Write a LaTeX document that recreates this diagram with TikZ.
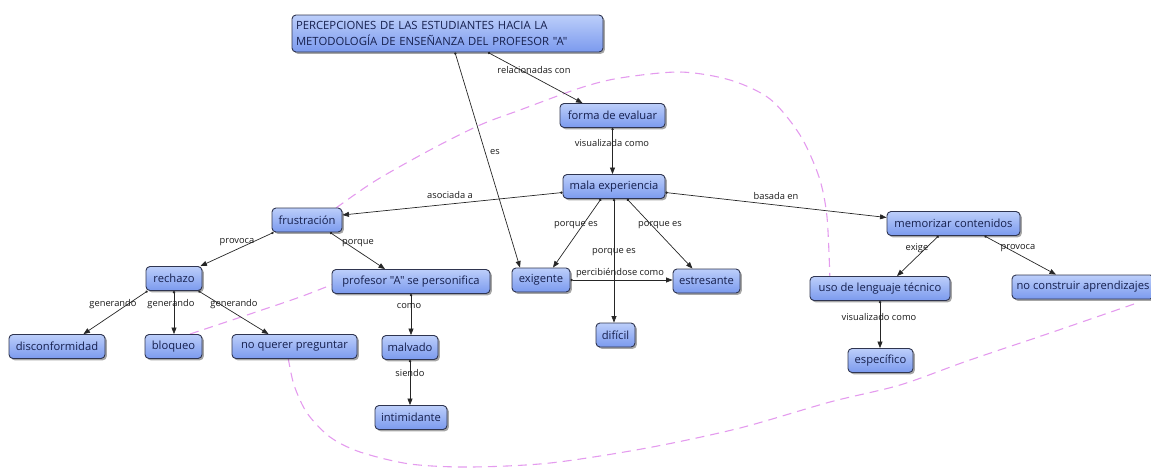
\documentclass[tikz,border=0pt]{standalone}
\usepackage{fontspec}
\newfontfamily\cmapfont{Open Sans}
\usetikzlibrary{shadows,arrows.meta,calc}
\definecolor{conTop}{HTML}{BCCEFA}
\definecolor{conBot}{HTML}{7B9AEE}
\definecolor{conLine}{HTML}{2F3550}
\definecolor{conText}{HTML}{16204E}
\definecolor{loopCol}{HTML}{E49BEE}
\tikzset{
  concept/.style={rectangle, rounded corners=4pt, draw=conLine, line width=0.9pt,
    top color=conTop, bottom color=conBot, text=conText,
    font=\cmapfont\fontsize{11.2}{13}\selectfont,
    minimum height=24pt, inner sep=2pt,
    drop shadow={shadow xshift=1.8pt, shadow yshift=-1.8pt, opacity=0.35, fill=black}},
  lbl/.style={font=\cmapfont\fontsize{9.3}{11}\selectfont, text=black!90, inner sep=0.5pt},
  link/.style={draw=black!85, line width=0.7pt,
    {Circle[length=2.4pt]}-{Triangle[length=6.5pt,width=5pt]}},
  loopline/.style={draw=loopCol, line width=1.1pt, dash pattern=on 9pt off 6pt}
}
\begin{document}
\begin{tikzpicture}[x=1pt,y=-1pt]
\useasboundingbox (0,0) rectangle (1151,467);

% dashed grouping loop, drawn first so the concepts sit on top of it
\draw[loopline] plot[smooth] coordinates {(190,334) (250,314) (300,297) (336,283)};
\draw[loopline] plot[smooth] coordinates {(336,208) (375,181) (430,150) (480,125) (520,110)
  (580,88) (620,78) (680,72) (730,80) (770,99) (800,135) (819,177) (827,217) (830,282)};
\draw[loopline] plot[smooth] coordinates {(1134,304) (1050,333) (967,361) (900,385) (830,402)
  (740,428) (647,448) (550,463) (470,467) (410,464) (360,452) (330,437) (307,413) (294,385) (288,357)};

% concepts
\node[concept, minimum width=311pt, minimum height=37pt, text width=303pt, align=left,
  font=\cmapfont\fontsize{11.3}{16.5}\selectfont] (title) at (447.5,33.5)
  {PERCEPCIONES DE LAS ESTUDIANTES HACIA LA\\METODOLOGÍA DE ENSEÑANZA DEL PROFESOR "A"};
\node[concept, minimum width=105pt] (forma) at (612.5,115.5) {forma de evaluar};
\node[concept, minimum width=102pt] (mala) at (614,186.5) {mala experiencia};
\node[concept, minimum width=70pt] (fru) at (307,220) {frustración};
\node[concept, minimum width=158pt] (prof) at (411,281.5) {profesor "A" se personifica};
\node[concept, minimum width=58pt] (exi) at (541,280) {exigente};
\node[concept, minimum width=67pt] (est) at (706.5,281) {estresante};
\node[concept, minimum width=39pt] (dif) at (615.5,335) {difícil};
\node[concept, minimum width=56pt] (rech) at (174,278.5) {rechazo};
\node[concept, minimum width=96pt] (disc) at (57,346.5) {disconformidad};
\node[concept, minimum width=57pt] (bloq) at (173.5,346.5) {bloqueo};
\node[concept, minimum width=125pt] (noq) at (294.5,346.5) {no querer preguntar};
\node[concept, minimum width=56pt] (malv) at (410,347.5) {malvado};
\node[concept, minimum width=72pt] (intim) at (411,417.5) {intimidante};
\node[concept, minimum width=133pt] (mem) at (953.5,223.5) {memorizar contenidos};
\node[concept, minimum width=140pt] (uso) at (880,288.5) {uso de lenguaje técnico};
\node[concept, minimum width=142pt] (noc) at (1083,287) {no construir aprendizajes};
\node[concept, minimum width=65pt] (esp) at (880.5,360.5) {específico};

% connectors
\draw[link] ($(title.south)+(40.5,0)$) -- ($(forma.north)+(-30,0)$);
\draw[link] ($(title.south)+(7.5,0)$) -- ($(exi.north)+(-21,0)$);
\draw[link] (forma.south) -- (forma.south |- mala.north);
\draw[link] ($(mala.west)+(0,6)$) -- ($(fru.east)+(0,-5)$);
\draw[link] ($(mala.south)+(-13,0)$) -- ($(exi.north)+(12,0)$);
\draw[link] (mala.south) -- (mala.south |- dif.north);
\draw[link] ($(mala.south)+(13,0)$) -- ($(est.north)+(-14,0)$);
\draw[link] ($(mala.east)+(0,6)$) -- ($(mem.west)+(0,-6)$);
\draw[link] (exi.east) -- (exi.east -| est.west);
\draw[link] ($(fru.south west)+(2,0)$) -- ($(rech.north east)+(-2,0)$);
\draw[link] ($(fru.south)+(23,0)$) -- ($(prof.north)+(-26,0)$);
\draw[link] ($(rech.south west)+(2,0)$) -- ($(disc.north east)+(-22,0)$);
\draw[link] (rech.south) -- (rech.south |- bloq.north);
\draw[link] ($(rech.south east)+(-4,0)$) -- ($(noq.north)+(-26,0)$);
\draw[link] (prof.south) -- (prof.south |- malv.north);
\draw[link] (malv.south) -- (malv.south |- intim.north);
\draw[link] ($(mem.south)+(-15,0)$) -- ($(uso.north)+(17,0)$);
\draw[link] ($(mem.south)+(31,0)$) -- ($(noc.north)+(-27,0)$);
\draw[link] (uso.south) -- (uso.south |- esp.north);

% linking phrases
\node[lbl] (l1) at (534,70) {relacionadas con};
\node[lbl] (l2) at (495,152) {es};
\node[lbl] (l3) at (612,143) {visualizada como};
\node[lbl] (l4) at (450,195) {asociada a};
\node[lbl] (l5) at (576,225) {porque es};
\node[lbl] (l6) at (660,225) {porque es};
\node[lbl] (l7) at (614,252) {porque es};
\node[lbl] (l8) at (776,196) {basada en};
\node[lbl] (l9) at (620,273) {percibiéndose como};
\node[lbl] (l10) at (237,242) {provoca};
\node[lbl] (l11) at (358,243) {porque};
\node[lbl] (l12) at (113,304) {generando};
\node[lbl] (l13) at (171,304) {generando};
\node[lbl] (l14) at (234,304) {generando};
\node[lbl] (l15) at (409,306) {como};
\node[lbl] (l16) at (410,373) {siendo};
\node[lbl] (l17) at (917,248) {exige};
\node[lbl] (l18) at (1018,248) {provoca};
\node[lbl] (l19) at (879,317) {visualizado como};
\end{tikzpicture}
\end{document}
